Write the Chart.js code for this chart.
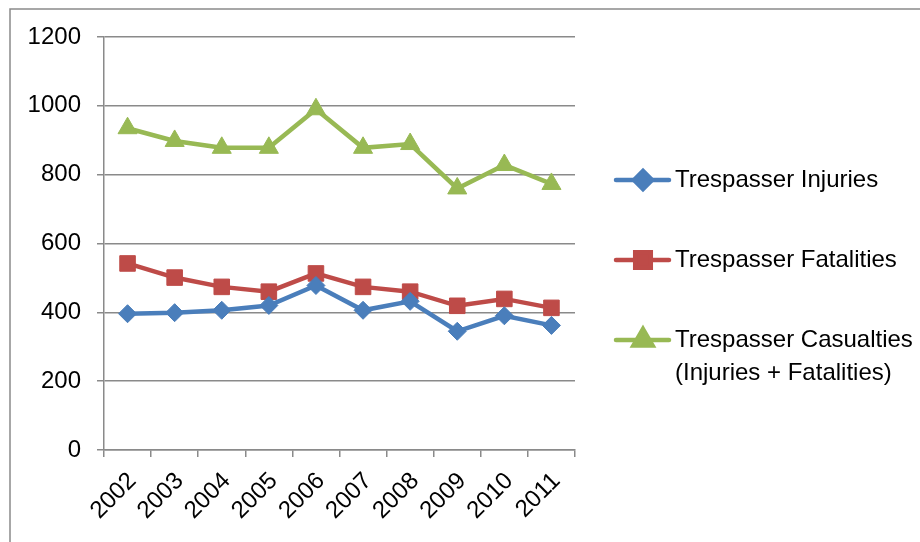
<!DOCTYPE html>
<html>
<head>
<meta charset="utf-8">
<script src="https://cdn.jsdelivr.net/npm/chart.js@4/dist/chart.umd.min.js"></script>
<style>
  html, body { margin: 0; padding: 0; background: #fff; }
  #wrap { width: 920px; height: 542px; position: relative; }
</style>
</head>
<body>
<div id="wrap"><canvas id="c" width="920" height="542"></canvas></div>
<script>
const years = ['2002','2003','2004','2005','2006','2007','2008','2009','2010','2011'];
const injuries   = [396, 399, 406, 420, 478, 406, 432, 345, 390, 362];
const fatalities = [542, 501, 474, 460, 513, 474, 460, 419, 439, 413];
const casualties = [935, 898, 878, 878, 990, 878, 889, 760, 828, 773];
const seriesNames = ['Trespasser Injuries', 'Trespasser Fatalities', ['Trespasser Casualties', '(Injuries + Fatalities)']];
const yTicks = [0, 200, 400, 600, 800, 1000, 1200];

const FONT = '"Liberation Sans", Arial, sans-serif';
const colors = ['#4A7EBB', '#BE4B48', '#98B954'];
const styles = ['rectRot', 'rect', 'triangle'];
const radii = [9, 11, 11];

const frame = {
  id: 'frame',
  beforeDraw(chart) {
    const ctx = chart.ctx;
    ctx.save();
    ctx.fillStyle = '#fff';
    ctx.fillRect(0, 0, chart.width, chart.height);
    ctx.strokeStyle = '#8a8a8a';
    ctx.lineWidth = 1.5;
    ctx.beginPath();
    ctx.moveTo(10, chart.height);
    ctx.lineTo(10, 9);
    ctx.lineTo(chart.width, 9);
    ctx.stroke();
    ctx.restore();
  }
};

const sideLegend = {
  id: 'sideLegend',
  afterDraw(chart) {
    const ctx = chart.ctx;
    const x0 = chart.chartArea.right + 41;
    const ys = [180, 260, 340];
    ctx.save();
    chart.data.datasets.forEach((ds, i) => {
      const y = ys[i];
      ctx.strokeStyle = ds.borderColor;
      ctx.lineWidth = 4.5;
      ctx.lineCap = 'round';
      ctx.beginPath();
      ctx.moveTo(x0, y);
      ctx.lineTo(x0 + 53, y);
      ctx.stroke();
      ctx.fillStyle = ds.pointBackgroundColor;
      ctx.strokeStyle = ds.pointBorderColor;
      Chart.helpers.drawPoint(ctx, {pointStyle: ds.pointStyle, radius: ds.pointRadius, rotation: 0, borderWidth: ds.pointBorderWidth}, x0 + 27, y);
      ctx.fillStyle = '#000';
      ctx.font = '24px ' + FONT;
      ctx.textBaseline = 'middle';
      ctx.textAlign = 'left';
      const lines = Array.isArray(ds.label) ? ds.label : [ds.label];
      lines.forEach((t, k) => ctx.fillText(t, x0 + 59, y + k * 33));
    });
    ctx.restore();
  }
};

const series = [injuries, fatalities, casualties];
const datasets = series.map((d, i) => ({
  label: seriesNames[i],
  data: d,
  borderColor: colors[i],
  backgroundColor: colors[i],
  borderWidth: 4.5,
  pointStyle: styles[i],
  pointRadius: radii[i],
  pointHoverRadius: radii[i],
  pointBackgroundColor: colors[i],
  pointBorderColor: colors[i],
  pointBorderWidth: 1,
  tension: 0
}));

new Chart(document.getElementById('c'), {
  type: 'line',
  data: { labels: years, datasets },
  plugins: [frame, sideLegend],
  options: {
    responsive: false,
    animation: false,
    layout: { padding: { left: 10, top: 37, right: 345, bottom: 0 } },
    plugins: { legend: { display: false }, tooltip: { enabled: false } },
    scales: {
      x: {
        offset: true,
        grid: { offset: true, drawOnChartArea: false, drawTicks: true, tickLength: 7, color: '#8a8a8a', lineWidth: 1.5 },
        border: { display: true, color: '#8a8a8a', width: 1.5 },
        ticks: { color: '#000', font: { family: FONT, size: 24 }, maxRotation: 45, minRotation: 45, padding: 10, labelOffset: 5 },
        afterFit(s) { s.height = 92; }
      },
      y: {
        min: 0, max: 1200,
        afterBuildTicks(s) { s.ticks = yTicks.map(v => ({ value: v })); },
        grid: { color: '#8a8a8a', lineWidth: 1.5, tickLength: 7, drawTicks: true },
        border: { display: true, color: '#8a8a8a', width: 1.5 },
        ticks: { color: '#000', font: { family: FONT, size: 24 }, padding: 16, callback: v => String(v) },
        afterFit(s) { s.width = 94; }
      }
    }
  }
});
</script>
</body>
</html>
